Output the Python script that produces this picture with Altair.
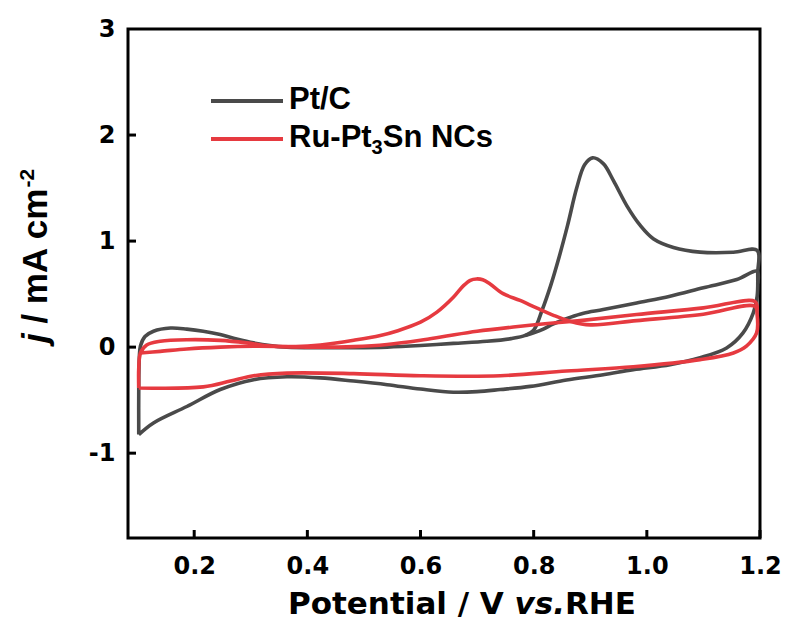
import altair as alt
import pandas as pd

# ---------------- data ----------------
series_names = ["Pt/C", "Ru-Pt3Sn NCs"]
series_colors = ["#4a4a4a", "#e63a40"]

# Pt/C, first cycle (closed loop with the big peak)
pt_c1_v = [0.102, 0.102, 0.103, 0.105, 0.113, 0.128, 0.158, 0.187, 0.216, 0.246,
           0.275, 0.305, 0.334, 0.364, 0.423, 0.482, 0.541, 0.600, 0.658, 0.717,
           0.760, 0.785, 0.800, 0.815, 0.830, 0.845, 0.860, 0.876, 0.890, 0.904,
           0.923, 0.941, 0.965, 0.988, 1.012, 1.047, 1.094, 1.153, 1.195, 1.196,
           1.195, 1.188, 1.170, 1.141, 1.094, 1.041, 0.976, 0.923, 0.858, 0.794,
           0.741, 0.700, 0.658, 0.600, 0.541, 0.482, 0.423, 0.364, 0.305, 0.246,
           0.187, 0.128, 0.102]
pt_c1_j = [-0.825, -0.40, -0.10, 0.01, 0.10, 0.15, 0.18, 0.17, 0.15, 0.118,
           0.077, 0.04, 0.014, 0.0, -0.005, -0.005, 0.0, 0.015, 0.035, 0.055,
           0.08, 0.11, 0.16, 0.35, 0.58, 0.85, 1.15, 1.50, 1.72, 1.785,
           1.73, 1.57, 1.33, 1.15, 1.02, 0.94, 0.896, 0.894, 0.913, 0.70,
           0.48, 0.32, 0.134, -0.008, -0.10, -0.165, -0.212, -0.26, -0.31, -0.37,
           -0.40, -0.42, -0.425, -0.395, -0.354, -0.32, -0.29, -0.28, -0.307, -0.40,
           -0.56, -0.715, -0.825]

# Pt/C, second cycle anodic branch
pt_c2_v = [0.785, 0.800, 0.817, 0.835, 0.864, 0.888, 0.923, 0.982, 1.041, 1.100,
           1.159, 1.195, 1.196]
pt_c2_j = [0.11, 0.135, 0.17, 0.22, 0.28, 0.32, 0.354, 0.417, 0.48, 0.56,
           0.637, 0.715, 0.60]

# Ru-Pt3Sn NCs, cycle with the peak (closed loop)
ru_c1_v = [0.102, 0.102, 0.105, 0.116, 0.140, 0.187, 0.246, 0.293, 0.334, 0.380,
           0.423, 0.482, 0.529, 0.560, 0.600, 0.629, 0.658, 0.676, 0.688, 0.699,
           0.710, 0.723, 0.746, 0.776, 0.805, 0.835, 0.864, 0.900, 0.982, 1.100,
           1.191, 1.195, 1.194, 1.176, 1.153, 1.094, 0.976, 0.858, 0.741, 0.600,
           0.482, 0.364, 0.305, 0.264, 0.216, 0.102]
ru_c1_j = [-0.385, -0.20, -0.055, 0.02, 0.055, 0.07, 0.064, 0.04, 0.01, 0.005,
           0.02, 0.065, 0.11, 0.155, 0.235, 0.33, 0.47, 0.58, 0.63, 0.643,
           0.635, 0.595, 0.505, 0.44, 0.37, 0.30, 0.245, 0.21, 0.25, 0.31,
           0.385, 0.30, 0.134, 0.01, -0.055, -0.118, -0.185, -0.225, -0.27, -0.27,
           -0.25, -0.245, -0.27, -0.32, -0.375, -0.385]

# Ru-Pt3Sn NCs, second cycle anodic branch
ru_c2_v = [0.105, 0.140, 0.187, 0.246, 0.305, 0.364, 0.423, 0.482, 0.541, 0.600,
           0.646, 0.700, 0.764, 0.820, 0.882, 0.982, 1.100, 1.191, 1.195]
ru_c2_j = [-0.055, -0.04, -0.017, 0.0, 0.008, 0.005, 0.0, 0.005, 0.025, 0.065,
           0.105, 0.15, 0.19, 0.22, 0.25, 0.307, 0.37, 0.43, 0.35]

x_ticks = [0.2, 0.4, 0.6, 0.8, 1.0, 1.2]
y_ticks = [-1, 0, 1, 2, 3]

x_title_parts = ["Potential / V", "vs.", "RHE"]
y_title_parts = ["j", "/ mA cm", "-2"]
legend_parts = ["Pt/C", "Ru-Pt", "3", "Sn NCs"]

# ---------------- build tables ----------------
def build(series, seg, vs, js):
    return pd.DataFrame({"series": series, "seg": seg,
                         "order": list(range(len(vs))), "v": vs, "j": js})

df_pt = pd.concat([build(series_names[0], "pt1", pt_c1_v, pt_c1_j),
                   build(series_names[0], "pt2", pt_c2_v, pt_c2_j)])
df_ru = pd.concat([build(series_names[1], "ru1", ru_c1_v, ru_c1_j),
                   build(series_names[1], "ru2", ru_c2_v, ru_c2_j)])

W, H = 632, 509
TICK_FONT = "DejaVu Sans"
xscale = alt.Scale(domain=[0.083, 1.2], nice=False, zero=False)
yscale = alt.Scale(domain=[-1.8, 3.0], nice=False, zero=False)
cscale = alt.Scale(domain=series_names, range=series_colors)

x_axis = alt.Axis(values=x_ticks, format=".1f", title=None, ticks=False, domain=False,
                  grid=False, labelFont=TICK_FONT, labelFontWeight="bold",
                  labelFontSize=24, labelColor="black", labelPadding=16,
                  labelFlush=False, labelOverlap=False)
y_axis = alt.Axis(values=y_ticks, title=None, ticks=False, domain=False,
                  labelExpr="datum.value < 0 ? '-' + abs(datum.value) : '' + datum.value",
                  grid=False, labelFont=TICK_FONT, labelFontWeight="bold",
                  labelFontSize=24, labelColor="black", labelPadding=13,
                  labelFlush=False, labelOverlap=False)


def curve(df):
    return alt.Chart(df).mark_line(strokeWidth=3.6, strokeJoin="round",
                                   interpolate="catmull-rom").encode(
        x=alt.X("v:Q", scale=xscale, axis=x_axis),
        y=alt.Y("j:Q", scale=yscale, axis=y_axis),
        color=alt.Color("series:N", scale=cscale, legend=None),
        detail="seg:N",
        order="order:Q",
    )


pt_layer = curve(df_pt)
ru_layer = curve(df_ru)

xt = alt.Chart(pd.DataFrame({"v": x_ticks})).mark_rule(color="black", strokeWidth=3).encode(
    x=alt.X("v:Q", scale=xscale, axis=x_axis), y=alt.value(H), y2=alt.value(H - 8))
yt = alt.Chart(pd.DataFrame({"j": y_ticks[:-1]})).mark_rule(color="black", strokeWidth=3).encode(
    y=alt.Y("j:Q", scale=yscale, axis=y_axis), x=alt.value(0), x2=alt.value(8))


def text(label, x, y, font, size, style="normal", angle=0):
    return alt.Chart(pd.DataFrame({"t": [label]})).mark_text(
        font=font, fontSize=size, fontWeight="bold", fontStyle=style,
        align="left", baseline="alphabetic", angle=angle, color="black"
    ).encode(text="t:N", x=alt.value(x), y=alt.value(y))


# x title
xt1 = text(x_title_parts[0], 160, 585, "DejaVu Sans", 31)
xt2 = text(x_title_parts[1], 386.6, 585, "DejaVu Sans", 31, "italic")
xt3 = text(x_title_parts[2], 437, 585, "DejaVu Sans", 31)

# y title (rotated)
yt1 = text(y_title_parts[0], -81, 314, "Liberation Sans", 35, "italic", 270)
yt2 = text(y_title_parts[1], -81, 294.6, "Liberation Sans", 35, "normal", 270)
yt3 = text(y_title_parts[2], -94, 158.4, "Liberation Sans", 21, "normal", 270)

# legend
lg_pt = alt.Chart(pd.DataFrame({"series": [series_names[0]]})).mark_rule(
    strokeWidth=4, color=series_colors[0]).encode(x=alt.value(83), x2=alt.value(155), y=alt.value(72))
lg_ru = alt.Chart(pd.DataFrame({"series": [series_names[1]]})).mark_rule(
    strokeWidth=4, color=series_colors[1]).encode(x=alt.value(83), x2=alt.value(155), y=alt.value(110))
lt1 = text(legend_parts[0], 161, 79.5, "Liberation Sans", 31)
lt2 = text(legend_parts[1], 161, 117.5, "Liberation Sans", 31)
lt3 = text(legend_parts[2], 243.6, 124.5, "Liberation Sans", 20)
lt4 = text(legend_parts[3], 254.7, 117.5, "Liberation Sans", 31)

chart = alt.layer(
    pt_layer, ru_layer, xt, yt,
    xt1, xt2, xt3, yt1, yt2, yt3,
    lg_pt, lg_ru, lt1, lt2, lt3, lt4,
).properties(
    width=W, height=H,
    autosize=alt.AutoSizeParams(type="none"),
    padding={"left": 128, "top": 29, "right": 27, "bottom": 87},
    background="white",
).configure_view(stroke="black", strokeWidth=3)

chart.save("out.html", embed_options={"renderer": "svg", "actions": False})
